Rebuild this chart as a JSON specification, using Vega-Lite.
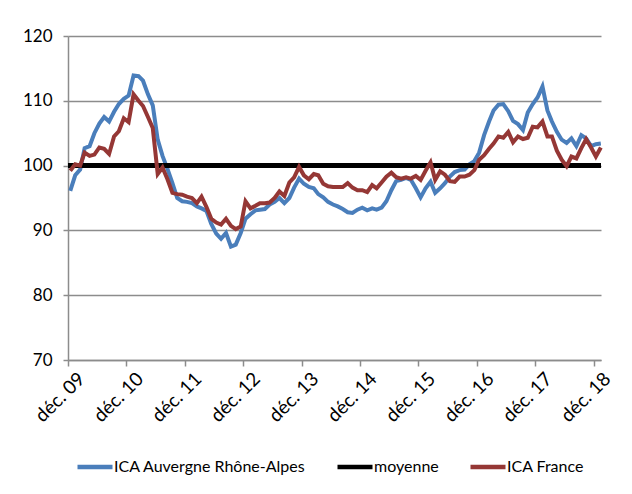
{
  "$schema": "https://vega.github.io/schema/vega-lite/v6.json",
  "width": 533,
  "height": 324,
  "autosize": {"type": "none"},
  "padding": {"left": 68, "top": 36, "right": 31, "bottom": 134},
  "background": "white",
  "config": {
    "view": {"stroke": null},
    "font": "Lato",
    "axis": {"labelFont": "Lato", "labelFontSize": 16, "labelColor": "#000000"}
  },
  "datasets": {
    "ica": [
      {"date": "2009-12-15", "ara": 96.1, "fr": 99.2},
      {"date": "2010-01-15", "ara": 98.5, "fr": 100.2},
      {"date": "2010-02-15", "ara": 99.4, "fr": 100.0},
      {"date": "2010-03-15", "ara": 102.7, "fr": 102.0},
      {"date": "2010-04-15", "ara": 103.0, "fr": 101.5},
      {"date": "2010-05-15", "ara": 105.0, "fr": 101.7},
      {"date": "2010-06-15", "ara": 106.5, "fr": 102.8},
      {"date": "2010-07-15", "ara": 107.5, "fr": 102.6},
      {"date": "2010-08-15", "ara": 106.8, "fr": 101.8},
      {"date": "2010-09-15", "ara": 108.3, "fr": 104.5},
      {"date": "2010-10-15", "ara": 109.5, "fr": 105.3},
      {"date": "2010-11-15", "ara": 110.3, "fr": 107.3},
      {"date": "2010-12-15", "ara": 110.8, "fr": 106.7},
      {"date": "2011-01-15", "ara": 113.9, "fr": 111.0},
      {"date": "2011-02-15", "ara": 113.8, "fr": 110.0},
      {"date": "2011-03-15", "ara": 113.1, "fr": 109.2},
      {"date": "2011-04-15", "ara": 111.0, "fr": 107.5},
      {"date": "2011-05-15", "ara": 109.3, "fr": 105.8},
      {"date": "2011-06-15", "ara": 104.0, "fr": 98.7},
      {"date": "2011-07-15", "ara": 101.5, "fr": 99.7},
      {"date": "2011-08-15", "ara": 99.5, "fr": 97.9},
      {"date": "2011-09-15", "ara": 97.3, "fr": 95.8},
      {"date": "2011-10-15", "ara": 95.0, "fr": 95.6},
      {"date": "2011-11-15", "ara": 94.5, "fr": 95.5},
      {"date": "2011-12-15", "ara": 94.4, "fr": 95.2},
      {"date": "2012-01-15", "ara": 94.2, "fr": 95.0},
      {"date": "2012-02-15", "ara": 93.7, "fr": 94.2},
      {"date": "2012-03-15", "ara": 93.4, "fr": 95.2},
      {"date": "2012-04-15", "ara": 93.0, "fr": 93.6},
      {"date": "2012-05-15", "ara": 91.0, "fr": 91.8},
      {"date": "2012-06-15", "ara": 89.5, "fr": 91.2},
      {"date": "2012-07-15", "ara": 88.7, "fr": 90.9},
      {"date": "2012-08-15", "ara": 89.6, "fr": 91.8},
      {"date": "2012-09-15", "ara": 87.5, "fr": 90.7},
      {"date": "2012-10-15", "ara": 87.8, "fr": 90.2},
      {"date": "2012-11-15", "ara": 89.6, "fr": 90.6},
      {"date": "2012-12-15", "ara": 91.8, "fr": 94.5},
      {"date": "2013-01-15", "ara": 92.5, "fr": 93.4},
      {"date": "2013-02-15", "ara": 93.1, "fr": 93.8},
      {"date": "2013-03-15", "ara": 93.2, "fr": 94.2},
      {"date": "2013-04-15", "ara": 93.3, "fr": 94.2},
      {"date": "2013-05-15", "ara": 94.0, "fr": 94.3},
      {"date": "2013-06-15", "ara": 94.4, "fr": 95.0},
      {"date": "2013-07-15", "ara": 95.0, "fr": 96.0},
      {"date": "2013-08-15", "ara": 94.2, "fr": 95.3},
      {"date": "2013-09-15", "ara": 95.0, "fr": 97.4},
      {"date": "2013-10-15", "ara": 96.6, "fr": 98.2},
      {"date": "2013-11-15", "ara": 98.0, "fr": 99.8},
      {"date": "2013-12-15", "ara": 97.2, "fr": 98.5},
      {"date": "2014-01-15", "ara": 96.7, "fr": 97.9},
      {"date": "2014-02-15", "ara": 96.5, "fr": 98.7},
      {"date": "2014-03-15", "ara": 95.6, "fr": 98.5},
      {"date": "2014-04-15", "ara": 95.1, "fr": 97.2},
      {"date": "2014-05-15", "ara": 94.4, "fr": 96.8},
      {"date": "2014-06-15", "ara": 94.0, "fr": 96.7},
      {"date": "2014-07-15", "ara": 93.7, "fr": 96.7},
      {"date": "2014-08-15", "ara": 93.3, "fr": 96.7},
      {"date": "2014-09-15", "ara": 92.8, "fr": 97.3},
      {"date": "2014-10-15", "ara": 92.7, "fr": 96.6},
      {"date": "2014-11-15", "ara": 93.2, "fr": 96.2},
      {"date": "2014-12-15", "ara": 93.5, "fr": 96.2},
      {"date": "2015-01-15", "ara": 93.1, "fr": 95.9},
      {"date": "2015-02-15", "ara": 93.4, "fr": 97.0},
      {"date": "2015-03-15", "ara": 93.2, "fr": 96.5},
      {"date": "2015-04-15", "ara": 93.5, "fr": 97.4},
      {"date": "2015-05-15", "ara": 94.5, "fr": 98.3},
      {"date": "2015-06-15", "ara": 96.2, "fr": 98.9},
      {"date": "2015-07-15", "ara": 97.6, "fr": 98.2},
      {"date": "2015-08-15", "ara": 97.8, "fr": 98.0},
      {"date": "2015-09-15", "ara": 98.1, "fr": 98.2},
      {"date": "2015-10-15", "ara": 97.8, "fr": 98.0},
      {"date": "2015-11-15", "ara": 96.5, "fr": 98.4},
      {"date": "2015-12-15", "ara": 95.1, "fr": 97.8},
      {"date": "2016-01-15", "ara": 96.5, "fr": 99.2},
      {"date": "2016-02-15", "ara": 97.5, "fr": 100.5},
      {"date": "2016-03-15", "ara": 95.8, "fr": 97.8},
      {"date": "2016-04-15", "ara": 96.5, "fr": 99.1},
      {"date": "2016-05-15", "ara": 97.3, "fr": 98.6},
      {"date": "2016-06-15", "ara": 98.3, "fr": 97.6},
      {"date": "2016-07-15", "ara": 99.0, "fr": 97.5},
      {"date": "2016-08-15", "ara": 99.3, "fr": 98.3},
      {"date": "2016-09-15", "ara": 99.4, "fr": 98.3},
      {"date": "2016-10-15", "ara": 100.2, "fr": 98.6},
      {"date": "2016-11-15", "ara": 100.7, "fr": 99.3},
      {"date": "2016-12-15", "ara": 102.0, "fr": 100.9},
      {"date": "2017-01-15", "ara": 104.7, "fr": 101.6},
      {"date": "2017-02-15", "ara": 106.8, "fr": 102.6},
      {"date": "2017-03-15", "ara": 108.5, "fr": 103.4},
      {"date": "2017-04-15", "ara": 109.4, "fr": 104.5},
      {"date": "2017-05-15", "ara": 109.5, "fr": 104.3},
      {"date": "2017-06-15", "ara": 108.4, "fr": 105.2},
      {"date": "2017-07-15", "ara": 106.9, "fr": 103.6},
      {"date": "2017-08-15", "ara": 106.4, "fr": 104.5},
      {"date": "2017-09-15", "ara": 105.5, "fr": 104.1},
      {"date": "2017-10-15", "ara": 108.2, "fr": 104.3},
      {"date": "2017-11-15", "ara": 109.5, "fr": 106.0},
      {"date": "2017-12-15", "ara": 110.5, "fr": 105.9},
      {"date": "2018-01-15", "ara": 112.2, "fr": 106.8},
      {"date": "2018-02-15", "ara": 108.5, "fr": 104.5},
      {"date": "2018-03-15", "ara": 106.8, "fr": 104.5},
      {"date": "2018-04-15", "ara": 105.2, "fr": 102.3},
      {"date": "2018-05-15", "ara": 104.0, "fr": 100.9},
      {"date": "2018-06-15", "ara": 103.5, "fr": 99.9},
      {"date": "2018-07-15", "ara": 104.2, "fr": 101.4},
      {"date": "2018-08-15", "ara": 103.0, "fr": 101.1},
      {"date": "2018-09-15", "ara": 104.7, "fr": 102.7},
      {"date": "2018-10-15", "ara": 104.2, "fr": 104.1},
      {"date": "2018-11-15", "ara": 103.0, "fr": 102.8},
      {"date": "2018-12-15", "ara": 103.3, "fr": 101.4},
      {"date": "2019-01-15", "ara": 103.4, "fr": 102.8}
    ],
    "moy": [
      {"date": "2009-12-01", "moyenne": 100},
      {"date": "2019-01-16", "moyenne": 100}
    ]
  },
  "encoding": {
    "x": {
      "field": "date",
      "type": "temporal",
      "scale": {
        "type": "utc",
        "domain": [
          {"year": 2009, "month": 12, "date": 1, "utc": true},
          {"year": 2019, "month": 1, "date": 16, "utc": true}
        ]
      },
      "axis": {
        "title": null,
        "grid": false,
        "values": [
          {"year": 2009, "month": 12, "date": 1, "utc": true},
          {"year": 2010, "month": 12, "date": 1, "utc": true},
          {"year": 2011, "month": 12, "date": 1, "utc": true},
          {"year": 2012, "month": 12, "date": 1, "utc": true},
          {"year": 2013, "month": 12, "date": 1, "utc": true},
          {"year": 2014, "month": 12, "date": 1, "utc": true},
          {"year": 2015, "month": 12, "date": 1, "utc": true},
          {"year": 2016, "month": 12, "date": 1, "utc": true},
          {"year": 2017, "month": 12, "date": 1, "utc": true},
          {"year": 2018, "month": 12, "date": 1, "utc": true}
        ],
        "labelExpr": "'déc. ' + utcFormat(datum.value, '%y')",
        "labelAngle": -45,
        "labelAlign": "right",
        "labelBaseline": "top",
        "labelFontSize": 19,
        "labelOffset": 7,
        "labelPadding": 3,
        "tickSize": 6,
        "tickColor": "#8c8c8c",
        "domainColor": "#8c8c8c",
        "domainWidth": 1.5,
        "tickWidth": 1.5,
        "labelOverlap": false,
        "labelBound": false,
        "labelFlush": false
      }
    }
  },
  "layer": [
    {
      "data": {"name": "ica"},
      "mark": {"type": "line", "strokeWidth": 4, "interpolate": "linear"},
      "encoding": {
        "y": {
          "field": "ara",
          "type": "quantitative",
          "scale": {"domain": [70, 120], "nice": false, "zero": false},
          "axis": {
            "title": null,
            "values": [70, 80, 90, 100, 110, 120],
            "grid": true,
            "gridColor": "#8c8c8c",
            "gridWidth": 1.5,
            "domainColor": "#8c8c8c",
            "domainWidth": 1.5,
            "tickColor": "#8c8c8c",
            "tickWidth": 1.5,
            "tickSize": 5,
            "labelPadding": 11,
            "labelFontSize": 17
          }
        },
        "color": {
          "datum": "ICA Auvergne Rhône-Alpes",
          "scale": {
            "domain": ["ICA Auvergne Rhône-Alpes", "moyenne", "ICA France"],
            "range": ["#4A7EBB", "#000000", "#953735"]
          },
          "legend": {
            "title": null,
            "orient": "none",
            "direction": "horizontal",
            "legendX": 7,
            "legendY": 411,
            "symbolType": "stroke",
            "symbolSize": 1225,
            "symbolStrokeWidth": 4.5,
            "labelFont": "Lato",
            "labelFontSize": 16,
            "labelColor": "#000000",
            "labelLimit": 400,
            "labelOffset": -1,
            "columnPadding": 22
          }
        }
      }
    },
    {
      "data": {"name": "moy"},
      "mark": {"type": "line", "strokeWidth": 5},
      "encoding": {
        "y": {"field": "moyenne", "type": "quantitative"},
        "color": {"datum": "moyenne"}
      }
    },
    {
      "data": {"name": "ica"},
      "mark": {"type": "line", "strokeWidth": 4, "interpolate": "linear"},
      "encoding": {
        "y": {"field": "fr", "type": "quantitative"},
        "color": {"datum": "ICA France"}
      }
    }
  ]
}
